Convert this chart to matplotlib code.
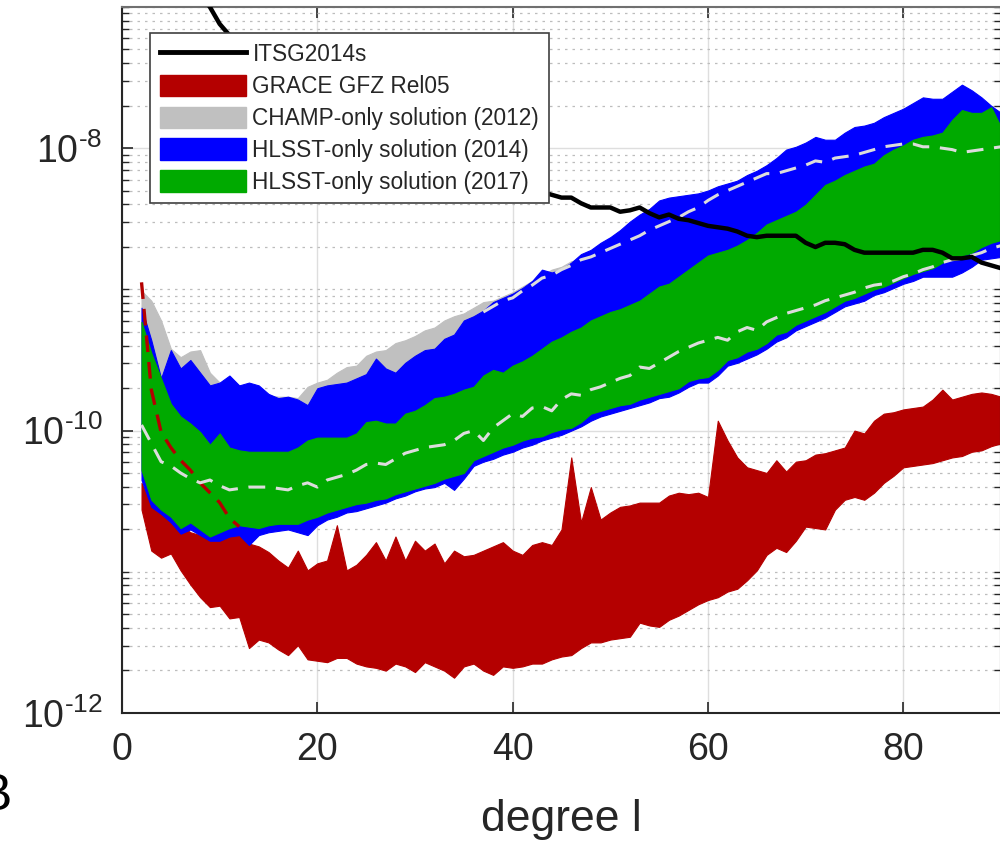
import numpy as np
import matplotlib
matplotlib.use("Agg")
import matplotlib.pyplot as plt
from matplotlib.lines import Line2D
from matplotlib.patches import Patch

plt.rcParams['font.family'] = ['Liberation Sans', 'DejaVu Sans']
plt.rcParams['mathtext.fontset'] = 'custom'
plt.rcParams['mathtext.rm'] = 'Liberation Sans'
plt.rcParams['mathtext.it'] = 'Liberation Sans:italic'
plt.rcParams['mathtext.default'] = 'regular'

# spherical harmonic degree
degree = np.arange(2, 91)

# log10 of degree amplitudes
itsg_log = [
    -5.70, -6.10, -6.30, -6.50, -6.65, -6.80, -6.91, -7.00, -7.12, -7.20,
    -7.27, -7.34, -7.40, -7.46, -7.51, -7.56, -7.61, -7.65, -7.69, -7.73,
    -7.77, -7.80, -7.84, -7.87, -7.90, -7.93, -7.96, -7.99, -8.02, -8.04,
    -8.07, -8.09, -8.12, -8.14, -8.16, -8.18, -8.20, -8.22, -8.24, -8.27,
    -8.29, -8.31, -8.33, -8.35, -8.35, -8.39, -8.42, -8.42, -8.42, -8.45,
    -8.44, -8.42, -8.46, -8.49, -8.47, -8.50, -8.51, -8.53, -8.55, -8.56,
    -8.57, -8.59, -8.62, -8.63, -8.62, -8.62, -8.62, -8.62, -8.67, -8.70,
    -8.67, -8.67, -8.68, -8.72, -8.74, -8.74, -8.74, -8.74, -8.74, -8.74,
    -8.72, -8.72, -8.74, -8.78, -8.78, -8.77, -8.81, -8.83, -8.85]

grace_hi_log = [
    -10.37, -10.51, -10.58, -10.61, -10.67, -10.72, -10.74, -10.75, -10.76, -10.74,
    -10.72, -10.80, -10.82, -10.86, -10.92, -10.97, -10.85, -10.99, -10.94, -10.92,
    -10.67, -10.99, -10.95, -10.88, -10.79, -10.92, -10.75, -10.92, -10.78, -10.85,
    -10.80, -10.94, -10.85, -10.89, -10.88, -10.85, -10.82, -10.79, -10.85, -10.88,
    -10.81, -10.79, -10.81, -10.70, -10.19, -10.65, -10.40, -10.63, -10.58, -10.54,
    -10.53, -10.51, -10.51, -10.51, -10.46, -10.44, -10.45, -10.44, -10.47, -9.93,
    -10.07, -10.19, -10.26, -10.28, -10.30, -10.21, -10.29, -10.22, -10.21, -10.17,
    -10.16, -10.14, -10.12, -10.00, -10.02, -9.93, -9.88, -9.87, -9.85, -9.84,
    -9.83, -9.78, -9.71, -9.78, -9.76, -9.74, -9.73, -9.74, -9.76]
grace_lo_log = [
    -10.56, -10.85, -10.90, -10.87, -10.99, -11.09, -11.18, -11.25, -11.24, -11.33,
    -11.32, -11.54, -11.48, -11.50, -11.55, -11.59, -11.52, -11.62, -11.63, -11.64,
    -11.61, -11.61, -11.65, -11.67, -11.68, -11.70, -11.65, -11.67, -11.71, -11.64,
    -11.67, -11.70, -11.75, -11.67, -11.65, -11.70, -11.73, -11.67, -11.68, -11.67,
    -11.65, -11.65, -11.62, -11.60, -11.59, -11.54, -11.50, -11.50, -11.48, -11.47,
    -11.46, -11.36, -11.38, -11.39, -11.34, -11.31, -11.27, -11.23, -11.20, -11.18,
    -11.14, -11.12, -11.06, -10.99, -10.88, -10.83, -10.86, -10.78, -10.68, -10.69,
    -10.70, -10.56, -10.49, -10.47, -10.49, -10.44, -10.37, -10.32, -10.26, -10.25,
    -10.24, -10.23, -10.21, -10.19, -10.18, -10.15, -10.14, -10.11, -10.09]

champ_hi_log = [
    -9.01, -9.08, -9.22, -9.42, -9.48, -9.44, -9.43, -9.59, -9.66, -9.64,
    -9.68, -9.68, -9.71, -9.75, -9.76, -9.76, -9.77, -9.69, -9.66, -9.64,
    -9.59, -9.55, -9.54, -9.47, -9.44, -9.43, -9.38, -9.36, -9.33, -9.29,
    -9.27, -9.22, -9.19, -9.17, -9.13, -9.09, -9.08, -9.05, -9.02, -8.98,
    -8.94, -8.90, -8.86, -8.84, -8.80, -8.79, -8.75, -8.70, -8.67, -8.62,
    -8.56, -8.51, -8.46, -8.40, -8.38, -8.38, -8.36, -8.36, -8.33, -8.30,
    -8.28, -8.26, -8.23, -8.19, -8.16, -8.11, -8.05, -8.02, -7.99, -7.96,
    -7.97, -7.98, -7.92, -7.89, -7.87, -7.85, -7.82, -7.79, -7.75, -7.72,
    -7.68, -7.69, -7.68, -7.64, -7.59, -7.63, -7.68, -7.73, -7.79]
champ_lo_log = [
    -10.30, -10.50, -10.55, -10.60, -10.65, -10.65, -10.70, -10.72, -10.72, -10.72,
    -10.70, -10.72, -10.70, -10.68, -10.66, -10.65, -10.65, -10.66, -10.63, -10.60,
    -10.58, -10.56, -10.54, -10.52, -10.50, -10.48, -10.45, -10.43, -10.40, -10.38,
    -10.36, -10.33, -10.30, -10.27, -10.23, -10.20, -10.17, -10.14, -10.11, -10.09,
    -10.06, -10.04, -10.01, -9.99, -9.96, -9.93, -9.90, -9.87, -9.84, -9.82,
    -9.80, -9.77, -9.75, -9.72, -9.70, -9.67, -9.63, -9.61, -9.60, -9.56,
    -9.50, -9.47, -9.44, -9.41, -9.38, -9.33, -9.30, -9.25, -9.22, -9.19,
    -9.16, -9.12, -9.08, -9.06, -9.04, -9.00, -8.98, -8.96, -8.94, -8.91,
    -8.89, -8.88, -8.87, -8.86, -8.84, -8.81, -8.78, -8.76, -8.74]

hlsst14_hi_log = [
    -9.13, -9.36, -9.63, -9.43, -9.56, -9.50, -9.59, -9.68, -9.66, -9.61,
    -9.68, -9.66, -9.68, -9.74, -9.77, -9.76, -9.78, -9.82, -9.70, -9.68,
    -9.67, -9.66, -9.63, -9.60, -9.49, -9.56, -9.59, -9.52, -9.47, -9.43,
    -9.42, -9.35, -9.32, -9.22, -9.19, -9.15, -9.09, -9.06, -9.03, -8.99,
    -8.94, -8.86, -8.88, -8.86, -8.81, -8.75, -8.72, -8.67, -8.63, -8.58,
    -8.52, -8.47, -8.43, -8.37, -8.35, -8.34, -8.33, -8.32, -8.30, -8.27,
    -8.25, -8.23, -8.19, -8.16, -8.12, -8.07, -8.01, -7.99, -7.96, -7.92,
    -7.94, -7.94, -7.89, -7.85, -7.84, -7.82, -7.78, -7.75, -7.72, -7.68,
    -7.64, -7.65, -7.65, -7.60, -7.55, -7.59, -7.64, -7.70, -7.75]
hlsst14_lo_log = [
    -10.35, -10.54, -10.59, -10.65, -10.73, -10.70, -10.74, -10.78, -10.78, -10.75,
    -10.74, -10.81, -10.74, -10.72, -10.71, -10.70, -10.72, -10.74, -10.67, -10.63,
    -10.61, -10.58, -10.57, -10.55, -10.53, -10.51, -10.48, -10.46, -10.43, -10.41,
    -10.40, -10.37, -10.42, -10.34, -10.25, -10.22, -10.20, -10.17, -10.15, -10.12,
    -10.10, -10.07, -10.05, -10.03, -10.00, -9.97, -9.93, -9.90, -9.88, -9.86,
    -9.84, -9.82, -9.80, -9.77, -9.76, -9.73, -9.69, -9.66, -9.66, -9.61,
    -9.54, -9.52, -9.49, -9.46, -9.42, -9.37, -9.34, -9.29, -9.26, -9.23,
    -9.20, -9.16, -9.12, -9.10, -9.08, -9.04, -9.02, -8.99, -8.96, -8.94,
    -8.91, -8.91, -8.91, -8.91, -8.88, -8.84, -8.79, -8.78, -8.77]

hlsst17_hi_log = [
    -9.23, -9.45, -9.63, -9.81, -9.90, -9.95, -10.01, -10.10, -10.02, -10.12,
    -10.14, -10.15, -10.15, -10.15, -10.15, -10.15, -10.12, -10.07, -10.05, -10.05,
    -10.05, -10.05, -10.02, -9.94, -9.93, -9.95, -9.95, -9.88, -9.86, -9.82,
    -9.77, -9.76, -9.74, -9.71, -9.69, -9.61, -9.57, -9.59, -9.54, -9.51,
    -9.47, -9.42, -9.37, -9.34, -9.30, -9.27, -9.22, -9.19, -9.16, -9.14,
    -9.11, -9.08, -9.03, -8.98, -8.96, -8.91, -8.86, -8.81, -8.76, -8.74,
    -8.72, -8.69, -8.65, -8.60, -8.54, -8.51, -8.48, -8.45, -8.40, -8.33,
    -8.26, -8.23, -8.19, -8.16, -8.13, -8.11, -8.05, -8.01, -7.98, -7.94,
    -7.92, -7.91, -7.89, -7.80, -7.73, -7.75, -7.75, -7.71, -7.85]
hlsst17_lo_log = [
    -10.28, -10.49, -10.56, -10.61, -10.69, -10.65, -10.70, -10.75, -10.72, -10.69,
    -10.67, -10.68, -10.69, -10.67, -10.66, -10.66, -10.66, -10.63, -10.61, -10.58,
    -10.56, -10.54, -10.52, -10.51, -10.49, -10.48, -10.45, -10.43, -10.41, -10.39,
    -10.37, -10.34, -10.32, -10.30, -10.21, -10.18, -10.15, -10.12, -10.10, -10.07,
    -10.05, -10.04, -10.01, -9.99, -9.98, -9.94, -9.88, -9.86, -9.84, -9.82,
    -9.81, -9.78, -9.76, -9.74, -9.72, -9.70, -9.65, -9.63, -9.62, -9.57,
    -9.50, -9.48, -9.44, -9.42, -9.38, -9.32, -9.30, -9.25, -9.22, -9.19,
    -9.16, -9.12, -9.08, -9.06, -9.03, -9.00, -8.98, -8.95, -8.92, -8.89,
    -8.87, -8.85, -8.81, -8.78, -8.76, -8.74, -8.70, -8.67, -8.65]

# light dashed curves
dash_low_log = [
    -9.96, -10.09, -10.22, -10.25, -10.30, -10.34, -10.37, -10.35, -10.39, -10.42,
    -10.41, -10.40, -10.40, -10.40, -10.41, -10.42, -10.39, -10.37, -10.40, -10.35,
    -10.33, -10.31, -10.28, -10.24, -10.23, -10.24, -10.20, -10.16, -10.14, -10.12,
    -10.11, -10.10, -10.07, -10.02, -10.00, -10.07, -9.98, -9.93, -9.88, -9.90,
    -9.84, -9.83, -9.86, -9.78, -9.74, -9.75, -9.71, -9.69, -9.66, -9.63,
    -9.61, -9.55, -9.56, -9.52, -9.48, -9.44, -9.41, -9.38, -9.36, -9.34,
    -9.36, -9.30, -9.27, -9.29, -9.23, -9.20, -9.17, -9.15, -9.13, -9.11,
    -9.08, -9.06, -9.04, -9.02, -8.99, -8.97, -8.96, -8.94, -8.91, -8.89,
    -8.86, -8.84, -8.81, -8.79, -8.78, -8.76, -8.74, -8.71, -8.69]
dash_high_deg = np.arange(37, 91)
dash_high_log = [
    -9.16, -9.12, -9.08, -9.06, -9.01, -8.97, -8.92, -8.90, -8.86, -8.83,
    -8.79, -8.77, -8.74, -8.71, -8.68, -8.65, -8.62, -8.58, -8.55, -8.52,
    -8.49, -8.45, -8.42, -8.37, -8.33, -8.30, -8.27, -8.24, -8.21, -8.18,
    -8.18, -8.16, -8.14, -8.12, -8.09, -8.10, -8.07, -8.06, -8.05, -8.03,
    -8.01, -7.99, -7.98, -7.97, -7.97, -7.99, -7.99, -8.00, -8.01, -8.03,
    -8.02, -8.01, -8.00, -7.99]
grace_dash_deg = np.arange(2, 13)
grace_dash_log = [-8.95, -9.71, -10.01, -10.12, -10.21, -10.28, -10.37,
                  -10.44, -10.51, -10.62, -10.68]

labels = ['ITSG2014s', 'GRACE GFZ Rel05', 'CHAMP-only solution (2012)',
          'HLSST-only solution (2014)', 'HLSST-only solution (2017)']
y_ticks = [1e-12, 1e-10, 1e-8]
y_ticklabels = ['$10^{\u2010' + '12}$', '$10^{\u2010' + '10}$', '$10^{\u2010' + '8}$']

c_red = '#b40000'
c_gray = '#c0c0c0'
c_blue = '#0000ff'
c_green = '#00aa00'
c_text = '#262626'


def p(v):
    return 10.0 ** np.asarray(v)


fig = plt.figure(figsize=(10, 8.42), dpi=100)
ax = fig.add_axes([0.122, 0.1532, 0.879, 0.8385])
ax.set_yscale('log')

bands = [(grace_lo_log, grace_hi_log, c_red),
         (champ_lo_log, champ_hi_log, c_gray),
         (hlsst14_lo_log, hlsst14_hi_log, c_blue),
         (hlsst17_lo_log, hlsst17_hi_log, c_green)]
for lo, hi, col in bands:
    ax.fill_between(degree, p(lo), p(hi), facecolor=col, edgecolor=col,
                    linewidth=0.8, zorder=2)

ax.plot(grace_dash_deg, p(grace_dash_log), color=c_red, lw=2.4,
        dashes=(5, 3), zorder=3)
ax.plot(degree, p(dash_low_log), color='#dcdcdc', lw=2.2, dashes=(5.5, 3.5), zorder=3)
ax.plot(dash_high_deg, p(dash_high_log), color='#dcdcdc', lw=2.2, dashes=(5.5, 3.5), zorder=3)
ax.plot(degree, p(itsg_log), color='black', lw=3.2, zorder=4)

ax.set_xlim(0, 90)
ax.set_ylim(1e-12, 1e-7)
ax.set_xticks([0, 20, 40, 60, 80])
ax.set_yticks(y_ticks)
ax.set_yticklabels(y_ticklabels)
ax.yaxis.set_minor_locator(matplotlib.ticker.LogLocator(base=10, subs=np.arange(1, 10), numticks=50))
ax.yaxis.set_minor_formatter(matplotlib.ticker.NullFormatter())

ax.set_axisbelow(True)
ax.grid(True, which='major', axis='both', color='#dedede', lw=1.0, ls='-')
ax.grid(True, which='minor', axis='y', color='#bdbdbd', lw=0.9, ls=(0, (2, 4)))

ax.tick_params(which='both', direction='in', top=True, right=True,
               colors=c_text, labelsize=27)
ax.tick_params(which='major', length=8, width=1.2, pad=14)
ax.tick_params(which='minor', length=5, width=1.0)
for s in ax.spines.values():
    s.set_color(c_text)
    s.set_linewidth(1.5)
ax.spines['top'].set_color('#707070')

ax.set_xlabel('degree l', fontsize=32, color=c_text, labelpad=22)

handles = [Line2D([], [], color='black', lw=3.5),
           Patch(facecolor=c_red, edgecolor=c_red),
           Patch(facecolor=c_gray, edgecolor=c_gray),
           Patch(facecolor=c_blue, edgecolor=c_blue),
           Patch(facecolor=c_green, edgecolor=c_green)]
leg = ax.legend(handles, labels, loc='upper left', bbox_to_anchor=(0.032, 0.963),
                borderaxespad=0, fontsize=16.3, frameon=True, fancybox=False,
                framealpha=1, edgecolor='#404040', handlelength=3.8,
                handleheight=1.1, labelspacing=0.37, handletextpad=0.3,
                borderpad=0.42)
leg.get_frame().set_linewidth(1.2)
leg.set_zorder(10)
for t in leg.get_texts():
    t.set_color(c_text)

fig.text(0.012, 0.038, 'B', ha='right', va='baseline', fontsize=37, color='black')

fig.savefig('out.png', dpi=100)
